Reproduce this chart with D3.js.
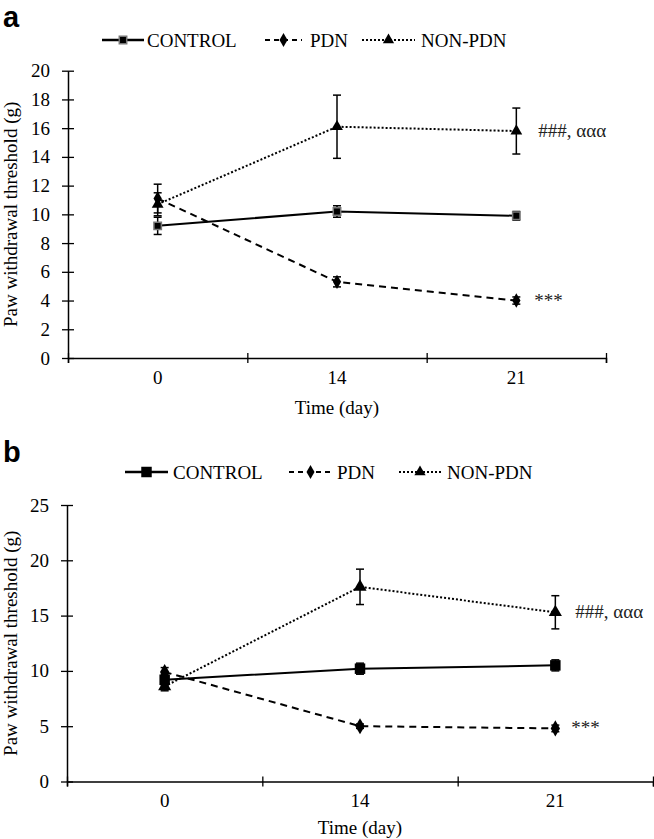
<!DOCTYPE html>
<html>
<head>
<meta charset="utf-8">
<script src="https://cdn.jsdelivr.net/npm/d3@7"></script>
<style>
  body { margin: 0; background: #fff; }
  svg { display: block; }
  text { font-family: "Liberation Serif", "Times New Roman", serif; fill: #000; }
</style>
</head>
<body>
<script>
// Data
const days = ["0", "14", "21"];
const seriesNames = ["CONTROL", "PDN", "NON-PDN"];

// panel a (g)
const aControl = [9.2, 10.2, 9.9];
const aControlErr = [0.6, 0.4, 0.3];
const aPdn = [11.1, 5.3, 4.0];
const aPdnErr = [1.0, 0.35, 0.25];
const aNonPdn = [10.7, 16.1, 15.8];
const aNonPdnErr = [0.8, 2.2, 1.6];
const aYTicks = [0, 2, 4, 6, 8, 10, 12, 14, 16, 18, 20];

// panel b (g)
const bControl = [9.2, 10.2, 10.5];
const bControlErr = [0.5, 0.5, 0.5];
const bPdn = [9.9, 5.0, 4.8];
const bPdnErr = [0.4, 0.2, 0.3];
const bNonPdn = [8.6, 17.6, 15.3];
const bNonPdnErr = [0.4, 1.6, 1.5];
const bYTicks = [0, 5, 10, 15, 20, 25];

const notePdn = "***";
const noteNonPdn = "###, ααα";

const W = 654, H = 839;
const svg = d3.select("body").append("svg").attr("width", W).attr("height", H);

const styles = {
  "CONTROL": { dash: null, symbol: d3.symbolSquare },
  "PDN": { dash: "7,5", symbol: d3.symbolDiamond },
  "NON-PDN": { dash: "2,2", symbol: d3.symbolTriangle }
};

function drawPanel(p) {
  const g = svg.append("g");

  // panel letter
  g.append("text")
    .attr("x", 3).attr("y", p.letterY)
    .style("font-family", "'Liberation Sans', Arial, sans-serif")
    .style("font-weight", "bold").style("font-size", "29px")
    .text(p.letter);

  const x = d3.scaleBand().domain(days).range([p.x0, p.x1]);
  const xEdge = d3.scaleLinear().domain([0, days.length]).range([p.x0, p.x1]);
  const y = d3.scaleLinear().domain([0, d3.max(p.yTicks)]).range([p.y0, p.yTop]);

  // y axis
  const ya = g.append("g").attr("transform", `translate(${p.x0},0)`)
    .call(d3.axisLeft(y).tickValues(p.yTicks).tickSize(6).tickSizeOuter(0).tickPadding(12));
  ya.selectAll(".tick line").attr("x1", 6).attr("stroke-width", 1.3);
  ya.select(".domain").attr("stroke-width", 1.5);
  ya.selectAll("text").style("font-family", "'Liberation Serif', serif").style("font-size", "19px");

  // x axis: boundary ticks
  const xa = g.append("g").attr("transform", `translate(0,${p.y0})`)
    .call(d3.axisBottom(xEdge).tickValues(d3.range(days.length + 1)).tickFormat("").tickSizeOuter(0).tickSize(5));
  xa.selectAll(".tick line").attr("y1", -5).attr("stroke-width", 1.3);
  xa.select(".domain").attr("stroke-width", 1.5);

  // x labels centered in bands
  const xl = g.append("g").attr("transform", `translate(0,${p.y0})`)
    .call(d3.axisBottom(x).tickSize(0).tickPadding(12.5));
  xl.select(".domain").remove();
  xl.selectAll("text").style("font-family", "'Liberation Serif', serif").style("font-size", "19px");

  // axis titles
  g.append("text")
    .attr("transform", `translate(17,${(p.y0 + p.yTop) / 2}) rotate(-90)`)
    .attr("text-anchor", "middle").style("font-size", "19px")
    .text("Paw withdrawal threshold (g)");
  g.append("text")
    .attr("x", (p.x0 + p.x1) / 2).attr("y", p.titleY)
    .attr("text-anchor", "middle").style("font-size", "19px")
    .text("Time (day)");

  const cx = d => x(d) + x.bandwidth() / 2;
  const line = d3.line().x(d => cx(d.day)).y(d => y(d.v));

  const series = p.series.map(s => ({
    name: s.name,
    pts: days.map((d, i) => ({ day: d, v: s.values[i], e: s.errors[i] }))
  }));

  // lines
  series.forEach(s => {
    g.append("path").datum(s.pts)
      .attr("d", line).attr("fill", "none").attr("stroke", "#000")
      .attr("stroke-width", 2)
      .attr("stroke-dasharray", styles[s.name].dash);
  });

  // error bars
  series.forEach(s => {
    const eb = g.append("g").attr("stroke", "#000").attr("stroke-width", 1.5);
    s.pts.forEach(d => {
      const px = cx(d.day);
      eb.append("line").attr("x1", px).attr("x2", px).attr("y1", y(d.v - d.e)).attr("y2", y(d.v + d.e));
      eb.append("line").attr("x1", px - 4).attr("x2", px + 4).attr("y1", y(d.v - d.e)).attr("y2", y(d.v - d.e));
      eb.append("line").attr("x1", px - 4).attr("x2", px + 4).attr("y1", y(d.v + d.e)).attr("y2", y(d.v + d.e));
    });
  });

  // markers
  series.forEach(s => {
    const st = styles[s.name];
    const size = s.name === "CONTROL" ? p.squareSize : p.markSize;
    g.selectAll(null).data(s.pts).join("path")
      .attr("transform", d => `translate(${cx(d.day)},${y(d.v)})`)
      .attr("d", d3.symbol(st.symbol, size))
      .attr("fill", "#000")
      .attr("stroke", s.name === "CONTROL" ? p.squareStroke : "none")
      .attr("stroke-width", 1.5);
  });

  // significance notes next to the last point
  const last = days[days.length - 1];
  g.append("text")
    .attr("x", cx(last) + p.noteDx).attr("y", y(p.series[1].values[2]) + 6)
    .style("font-size", "19px").style("fill", "#222").text(notePdn);
  g.append("text")
    .attr("x", cx(last) + p.noteDx + 4).attr("y", y(p.series[2].values[2]) + 6)
    .style("font-size", "19px").style("fill", "#222").text(noteNonPdn);

  // legend
  const lg = g.append("g").attr("transform", `translate(0,${p.legendY})`);
  p.legend.forEach((L, i) => {
    const name = seriesNames[i];
    const st = styles[name];
    lg.append("line").attr("x1", L[0]).attr("x2", L[1]).attr("y1", 0).attr("y2", 0)
      .attr("stroke", "#000").attr("stroke-width", name === "CONTROL" ? 2.5 : 2)
      .attr("stroke-dasharray", name === "PDN" ? "5,4" : st.dash);
    lg.append("path").attr("transform", `translate(${(L[0] + L[1]) / 2},0)`)
      .attr("d", d3.symbol(st.symbol, name === "CONTROL" ? p.squareSize : 55))
      .attr("fill", "#000")
      .attr("stroke", name === "CONTROL" ? p.squareStroke : "none").attr("stroke-width", 1.5);
    lg.append("text").attr("x", L[2]).attr("y", 7).style("font-size", "19px").text(name);
  });
}

drawPanel({
  letter: "a", letterY: 27,
  x0: 68, x1: 606, y0: 358, yTop: 70.7, yTicks: aYTicks, titleY: 414,
  series: [
    { name: "CONTROL", values: aControl, errors: aControlErr },
    { name: "PDN", values: aPdn, errors: aPdnErr },
    { name: "NON-PDN", values: aNonPdn, errors: aNonPdnErr }
  ],
  squareSize: 55, squareStroke: "#777", markSize: 60,
  noteDx: 18,
  legendY: 40,
  legend: [[102, 144, 147], [265, 302, 310], [362, 415, 421]]
});

drawPanel({
  letter: "b", letterY: 462,
  x0: 67, x1: 653, y0: 781.5, yTop: 505, yTicks: bYTicks, titleY: 834,
  series: [
    { name: "CONTROL", values: bControl, errors: bControlErr },
    { name: "PDN", values: bPdn, errors: bPdnErr },
    { name: "NON-PDN", values: bNonPdn, errors: bNonPdnErr }
  ],
  squareSize: 110, squareStroke: "none", markSize: 75,
  noteDx: 16,
  legendY: 472,
  legend: [[125, 168, 173], [289, 332, 337], [399, 441, 447]]
});
</script>
</body>
</html>
